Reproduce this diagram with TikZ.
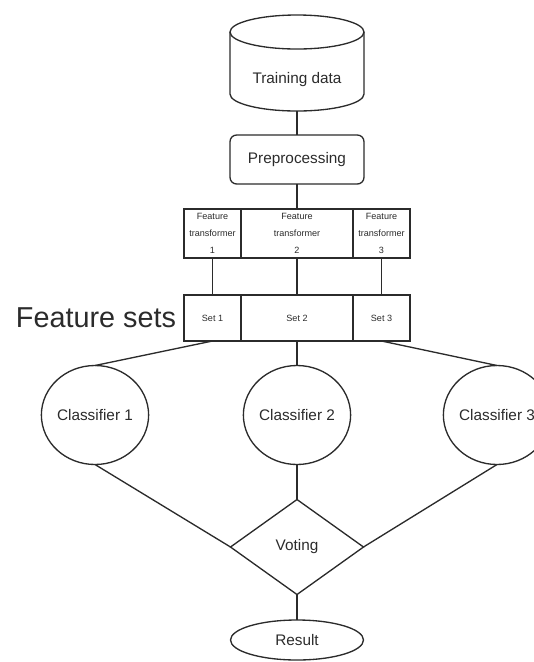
\documentclass[tikz,border=0pt]{standalone}
\usepackage{fontspec}
\setmainfont{Liberation Sans}
\usetikzlibrary{shapes.geometric}
\definecolor{ink}{HTML}{2B2B2B}
\begin{document}
\begin{tikzpicture}[x=0.75pt,y=-0.75pt,
  line width=1pt, draw=ink, text=ink,
  every node/.style={inner sep=0pt, outer sep=0pt},
  lbl/.style={font=\fontsize{11.5}{14}\selectfont},
  small/.style={font=\fontsize{6.8}{13}\selectfont, align=center},
  box/.style={draw, rectangle, minimum height=36.75pt},
  setbox/.style={draw, rectangle, minimum height=34.5pt},
  clf/.style={draw, ellipse, minimum width=66.75pt, minimum height=74.25pt, lbl},
  link/.style={draw=ink, line width=1pt}
]
\useasboundingbox (0,0) rectangle (534,662);

% training data store (cylinder): body with rounded bottom, then top lid
\draw (230,32) -- (230,94) arc[start angle=180, end angle=0, x radius=67, y radius=17]
      -- (364,32);
\draw (297,32) ellipse[x radius=67, y radius=17];
\node[lbl] (train) at (297,80) {Training data};
\coordinate (trainbot) at (297,111);

% preprocessing
\node[draw, rounded corners=5pt, minimum width=100.5pt, minimum height=36.75pt, lbl]
  (prep) at (297,159.5) {Preprocessing};

% feature transformers
\node[box, minimum width=42.75pt, small] (ft1) at (212.5,233.5) {Feature\\transformer\\1};
\node[box, minimum width=84pt, small] (ft2) at (297,233.5) {Feature\\transformer\\2};
\node[box, minimum width=42.75pt, small] (ft3) at (381.5,233.5) {Feature\\transformer\\3};

% feature sets
\node[setbox, minimum width=42.75pt, small] (s1) at (212.5,318) {Set 1};
\node[setbox, minimum width=84pt, small] (s2) at (297,318) {Set 2};
\node[setbox, minimum width=42.75pt, small] (s3) at (381.5,318) {Set 3};
\node[anchor=east, font=\fontsize{21.6}{24}\selectfont] (fslabel) at (176,318) {Feature sets};

% classifiers
\node[clf] (c1) at (95,415) {Classifier 1};
\node[clf] (c2) at (297,415) {Classifier 2};
\node[clf] (c3) at (497,415) {Classifier 3};

% voting and result
\node[draw, diamond, minimum width=99.75pt, minimum height=71.25pt, lbl] (vote) at (297,547) {Voting};
\node[draw, ellipse, minimum width=99.75pt, minimum height=30pt, lbl] (res) at (297,640) {Result};

% connectors
\draw[link] (trainbot) -- (prep.north);
\draw[link] (prep.south) -- (ft2.north);
\draw[link] (ft1.south) -- (s1.north);
\draw[link] (ft2.south) -- (s2.north);
\draw[link] (ft3.south) -- (s3.north);
\draw[link] (s1.south) -- (c1.north);
\draw[link] (s2.south) -- (c2.north);
\draw[link] (s3.south) -- (c3.north);
\draw[link] (c1.south) -- (vote.west);
\draw[link] (c2.south) -- (vote.north);
\draw[link] (c3.south) -- (vote.east);
\draw[link] (vote.south) -- (res.north);
\end{tikzpicture}
\end{document}
